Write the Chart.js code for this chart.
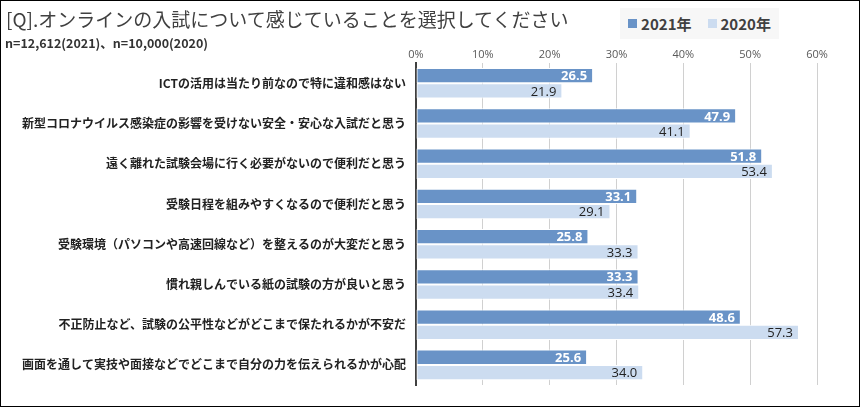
<!DOCTYPE html>
<html>
<head>
<meta charset="utf-8">
<script src="https://cdn.jsdelivr.net/npm/chart.js@4"></script>
<style>
  body { margin: 0; background: #fff; }
  #wrap { position: relative; width: 858px; height: 405px; border: 1px solid #000; overflow: hidden; font-family: "Noto Sans CJK JP", sans-serif; }
  #title { position: absolute; left: 5px; top: 4px; font-size: 19px; color: #404040; white-space: nowrap; }
  #sub { position: absolute; left: 4px; top: 32px; font-size: 12.5px; font-weight: bold; color: #333; white-space: nowrap; }
  #legend { position: absolute; left: 619px; top: 7px; width: 159px; height: 31px; background: #f7f7f7; display: flex; align-items: center; justify-content: center; gap: 16px; }
  .item { display: flex; align-items: center; font-size: 15px; font-weight: bold; color: #404040; }
  .sw { width: 9px; height: 9px; margin-right: 4px; }
  #c { position: absolute; left: 0; top: 0; }
</style>
</head>
<body>
<div id="wrap">
  <canvas id="c" width="858" height="405"></canvas>
  <div id="title">[Q].オンラインの入試について感じていることを選択してください</div>
  <div id="sub">n=12,612(2021)、n=10,000(2020)</div>
  <div id="legend"></div>
</div>
<script>
// categories and values (%)
const categories = [
    'ICTの活用は当たり前なので特に違和感はない',
    '新型コロナウイルス感染症の影響を受けない安全・安心な入試だと思う',
    '遠く離れた試験会場に行く必要がないので便利だと思う',
    '受験日程を組みやすくなるので便利だと思う',
    '受験環境（パソコンや高速回線など）を整えるのが大変だと思う',
    '慣れ親しんでいる紙の試験の方が良いと思う',
    '不正防止など、試験の公平性などがどこまで保たれるかが不安だ',
    '画面を通して実技や面接などでどこまで自分の力を伝えられるかが心配'
];
const values2021 = [26.5, 47.9, 51.8, 33.1, 25.8, 33.3, 48.6, 25.6];
const values2020 = [21.9, 41.1, 53.4, 29.1, 33.3, 33.4, 57.3, 34.0];
const seriesNames = ['2021年', '2020年'];
const seriesColors = ['#6993c7', '#ccdcf0'];
const labelColors = ['#ffffff', '#222222'];
const xTicks = [0, 10, 20, 30, 40, 50, 60];

// html legend
const legendEl = document.getElementById('legend');
seriesNames.forEach((name, i) => {
    const it = document.createElement('div');
    it.className = 'item';
    it.innerHTML = '<span class="sw" style="background:' + seriesColors[i] + '"></span>' + name;
    legendEl.appendChild(it);
});

// value labels at the inside end of each bar
const barLabels = {
    id: 'barLabels',
    afterDatasetsDraw(chart) {
        const ctx = chart.ctx;
        ctx.save();
        ctx.textAlign = 'right';
        ctx.textBaseline = 'middle';
        chart.data.datasets.forEach((ds, i) => {
            const meta = chart.getDatasetMeta(i);
            ctx.font = (i === 0 ? 'bold ' : '') + '13px "Open Sans", sans-serif';
            ctx.fillStyle = labelColors[i];
            meta.data.forEach((bar, j) => {
                ctx.fillText(ds.data[j].toFixed(1), bar.x - 6, bar.y + 1);
            });
        });
        ctx.restore();
    }
};

new Chart(document.getElementById('c'), {
    type: 'bar',
    data: {
        labels: categories,
        datasets: [
            { label: seriesNames[0], data: values2021, backgroundColor: seriesColors[0], borderColor: '#ffffff', borderWidth: 1, borderSkipped: false },
            { label: seriesNames[1], data: values2020, backgroundColor: seriesColors[1], borderColor: '#ffffff', borderWidth: 1, borderSkipped: false }
        ]
    },
    options: {
        indexAxis: 'y',
        responsive: false,
        animation: false,
        layout: { padding: { top: 45, right: 42, bottom: 21, left: 0 } },
        datasets: { bar: { categoryPercentage: 0.76, barPercentage: 1.0 } },
        plugins: { legend: { display: false }, tooltip: { enabled: false } },
        scales: {
            x: {
                position: 'top',
                min: 0,
                max: 60,
                afterBuildTicks: s => { s.ticks = xTicks.map(v => ({ value: v })); },
                ticks: { callback: v => v + '%', color: '#595959', font: { size: 11, family: '"Open Sans", sans-serif' }, padding: 2 },
                grid: { color: '#d0d0d0', drawTicks: false, tickLength: 0 },
                border: { display: false }
            },
            y: {
                afterFit: s => { s.width = 415; },
                ticks: { color: '#222', font: { size: 12, weight: 'bold', family: '"Noto Sans CJK JP", sans-serif' }, padding: 10 },
                grid: { display: false, drawTicks: false },
                border: { display: true, color: '#404040', width: 2 }
            }
        }
    },
    plugins: [barLabels]
});
</script>
</body>
</html>
